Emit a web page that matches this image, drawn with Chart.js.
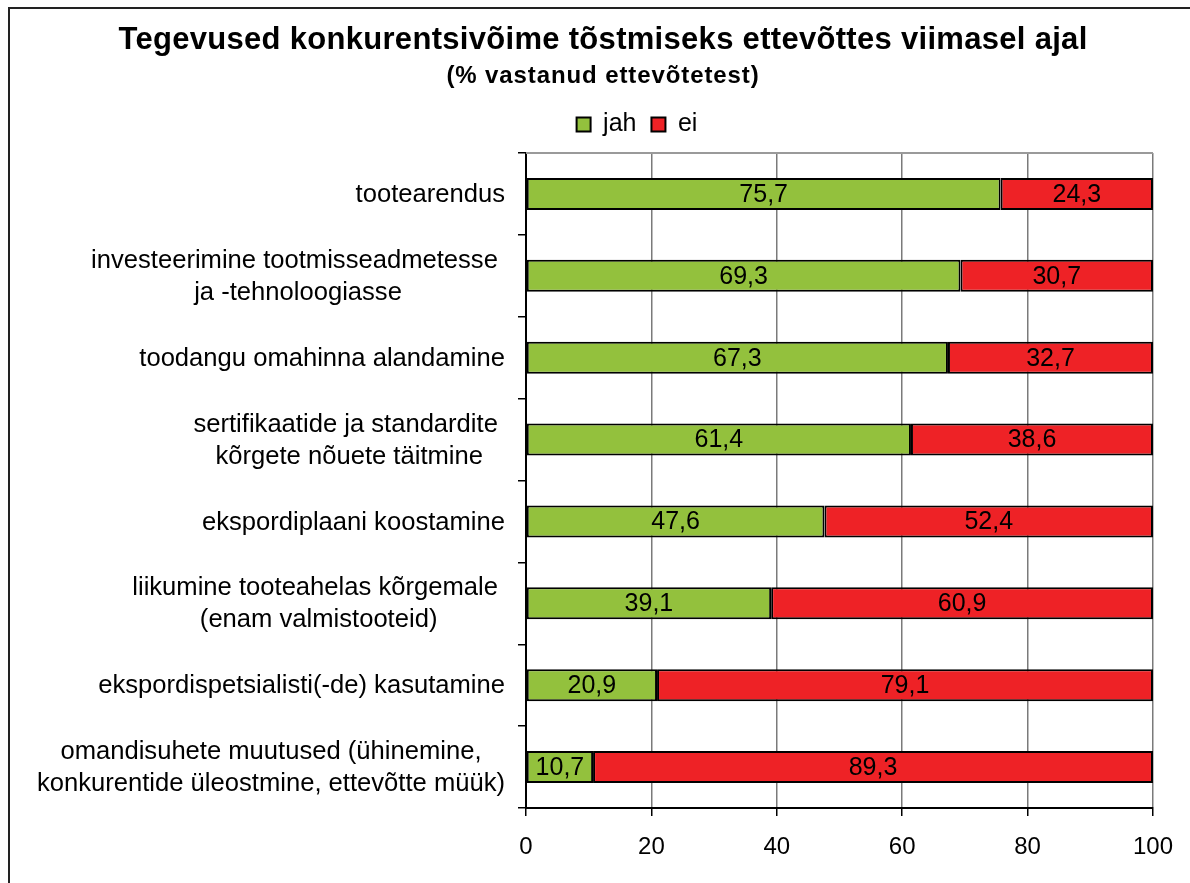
<!DOCTYPE html>
<html>
<head>
<meta charset="utf-8">
<script src="https://cdn.jsdelivr.net/npm/chart.js@4.4.1/dist/chart.umd.min.js"></script>
<style>
  html, body { margin: 0; padding: 0; background: #fff; }
  #wrap { width: 1190px; height: 883px; position: relative; }
</style>
</head>
<body>
<div id="wrap"><canvas id="c" width="1190" height="883"></canvas></div>
<script>
const titleText = "Tegevused konkurentsivõime tõstmiseks ettevõttes viimasel ajal";
const subtitleText = "(% vastanud ettevõtetest)";
const categories = [
  ["tootearendus"],
  ["investeerimine tootmisseadmetesse ", "ja -tehnoloogiasse"],
  ["toodangu omahinna alandamine"],
  ["sertifikaatide ja standardite ", "kõrgete nõuete täitmine"],
  ["ekspordiplaani koostamine"],
  ["liikumine tooteahelas kõrgemale ", "(enam valmistooteid)"],
  ["ekspordispetsialisti(-de) kasutamine"],
  ["omandisuhete muutused (ühinemine,", "konkurentide üleostmine, ettevõtte müük)"]
];
const seriesNames = ["jah", "ei"];
const jahValues = [75.7, 69.3, 67.3, 61.4, 47.6, 39.1, 20.9, 10.7];
const eiValues = [24.3, 30.7, 32.7, 38.6, 52.4, 60.9, 79.1, 89.3];
const xTicks = [0, 20, 40, 60, 80, 100];

const FONT = "'Liberation Sans', Arial, sans-serif";
const PAD_LEFT = 120;

const decorPlugin = {
  id: 'decor',
  afterLayout(chart) {
    if (chart.legend) {
      chart.legend.top -= 6;
      chart.legend.bottom -= 6;
    }
  },
  beforeDraw(chart) {
    const ctx = chart.ctx;
    ctx.save();
    ctx.fillStyle = '#fff';
    ctx.fillRect(0, 0, chart.width, chart.height);
    // outer frame
    ctx.strokeStyle = '#222';
    ctx.lineWidth = 2;
    ctx.strokeRect(9, 8, 1200, 900);
    // title
    ctx.fillStyle = '#000';
    ctx.textAlign = 'center';
    ctx.textBaseline = 'alphabetic';
    ctx.font = "bold 31px " + FONT;
    ctx.letterSpacing = '0.3px';
    ctx.fillText(titleText, 603, 49);
    ctx.font = "bold 24px " + FONT;
    ctx.letterSpacing = '0.9px';
    ctx.fillText(subtitleText, 603, 83);
    ctx.restore();
  },
  afterDraw(chart) {
    const ctx = chart.ctx;
    const a = chart.chartArea;
    ctx.save();
    // top border of plot area
    ctx.strokeStyle = '#9a9a9a';
    ctx.lineWidth = 2;
    ctx.beginPath();
    ctx.moveTo(a.left, a.top);
    ctx.lineTo(a.right, a.top);
    ctx.stroke();
    // category labels: block right-aligned, lines centered within block
    const ys = chart.scales.y;
    ctx.font = "25.6px " + FONT;
    ctx.fillStyle = '#000';
    ctx.textAlign = 'left';
    ctx.textBaseline = 'middle';
    const right = 505;
    const lh = 32;
    categories.forEach((lines, i) => {
      const cy = ys.getPixelForTick(i);
      const w = Math.max(...lines.map(l => ctx.measureText(l).width));
      const cx = right - w / 2;
      const y0 = cy - (lines.length - 1) * lh / 2;
      lines.forEach((l, j) => {
        const lw = ctx.measureText(l).width;
        ctx.fillText(l, cx - lw / 2, y0 + j * lh + 1);
      });
    });
    ctx.restore();
  },
  afterDatasetsDraw(chart) {
    const ctx = chart.ctx;
    ctx.save();
    ctx.font = "25px " + FONT;
    ctx.fillStyle = '#000';
    ctx.textAlign = 'center';
    ctx.textBaseline = 'middle';
    chart.data.datasets.forEach((ds, di) => {
      const meta = chart.getDatasetMeta(di);
      meta.data.forEach((el, i) => {
        const p = el.getProps(['x', 'y', 'base'], true);
        const cx = (p.x + p.base) / 2;
        ctx.fillText(ds.data[i].toFixed(1).replace('.', ','), cx, p.y + 1);
      });
    });
    ctx.restore();
  }
};

new Chart(document.getElementById('c'), {
  type: 'bar',
  data: {
    labels: categories,
    datasets: [
      { label: seriesNames[0], data: jahValues, backgroundColor: '#93C13D', borderColor: '#000', borderWidth: 2, borderSkipped: false, categoryPercentage: 1, barPercentage: 0.39 },
      { label: seriesNames[1], data: eiValues, backgroundColor: '#EE2226', borderColor: '#000', borderWidth: 2, borderSkipped: false, categoryPercentage: 1, barPercentage: 0.39 }
    ]
  },
  options: {
    indexAxis: 'y',
    responsive: false,
    animation: false,
    devicePixelRatio: 1,
    layout: { padding: { top: 103, left: PAD_LEFT, right: 36, bottom: 0 } },
    plugins: {
      title: { display: false },
      tooltip: { enabled: false },
      legend: {
        display: true,
        position: 'top',
        labels: {
          color: '#000',
          font: { family: FONT, size: 25 },
          boxWidth: 14,
          boxHeight: 14,
          padding: 15
        }
      }
    },
    scales: {
      x: {
        stacked: true,
        min: 0,
        max: 100,
        afterBuildTicks(scale) { scale.ticks = xTicks.map(v => ({ value: v })); },
        afterFit(scale) { scale.height = 75; },
        ticks: { color: '#000', font: { family: FONT, size: 24 }, padding: 17, maxRotation: 0 },
        grid: { color: '#7a7a7a', lineWidth: 1.5, tickColor: '#000', tickLength: 8, drawTicks: true },
        border: { color: '#000', width: 2 }
      },
      y: {
        stacked: true,
        afterFit(scale) { scale.width = 526 - PAD_LEFT; },
        ticks: { display: false },
        grid: { offset: true, drawOnChartArea: false, color: '#000', tickLength: 8, lineWidth: 1.5 },
        border: { color: '#000', width: 2 }
      }
    }
  },
  plugins: [decorPlugin]
});
</script>
</body>
</html>
